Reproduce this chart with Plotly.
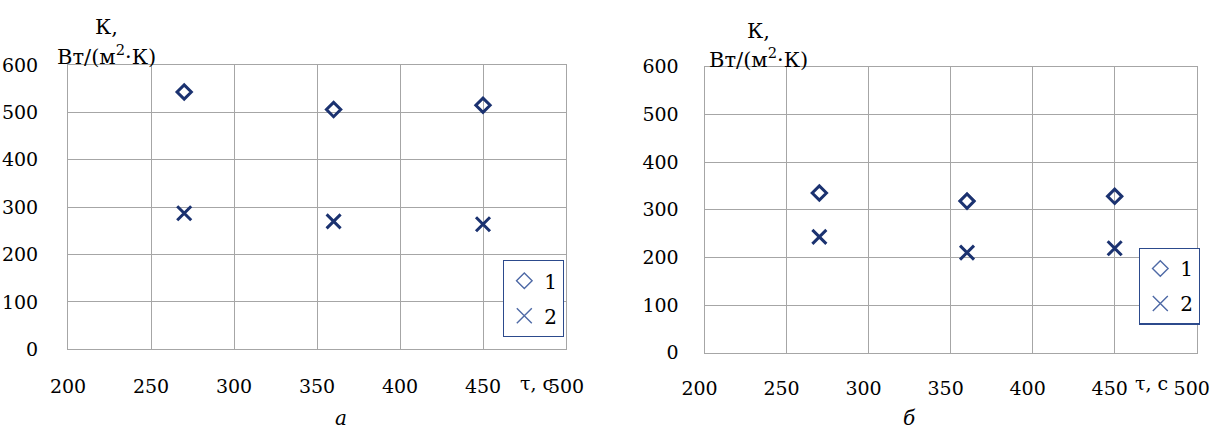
import plotly.graph_objects as go

W, H = 1217, 430

# Time, s
tau = [270, 360, 450]

# Heat transfer coefficient K, W/(m2·K) — panel "а"
k1_a = [543, 506, 515]
k2_a = [287, 270, 264]

# Heat transfer coefficient K, W/(m2·K) — panel "б"
k1_b = [335, 318, 328]
k2_b = [243, 210, 219]

x_ticks = [200, 250, 300, 350, 400, 450, 500]
y_ticks = [0, 100, 200, 300, 400, 500, 600]
series_names = ["1", "2"]

FONT = "DejaVu Serif"
NAVY = "#1b3270"
LEG = "#4f6aa6"
GRID = "#a6a6a6"
FS_TICK = 19
FS_TITLE = 21
FS_LEG = 20


def px_x(p):
    return p / W


def px_y(p):
    return 1 - p / H


fig = go.Figure()

panels = [
    ("x", "y", k1_a, k2_a, "legend"),
    ("x2", "y2", k1_b, k2_b, "legend2"),
]
for xa, ya, k1, k2, lg in panels:
    fig.add_trace(go.Scatter(
        x=tau, y=k1, mode="markers", xaxis=xa, yaxis=ya, showlegend=False,
        marker=dict(symbol="diamond-open", size=11, color=NAVY,
                    line=dict(width=3, color=NAVY)),
    ))
    fig.add_trace(go.Scatter(
        x=tau, y=k2, mode="markers", xaxis=xa, yaxis=ya, showlegend=False,
        marker=dict(symbol="x-thin-open", size=14, color=NAVY,
                    line=dict(width=3, color=NAVY)),
    ))
    # legend entries (lighter, thin symbols)
    fig.add_trace(go.Scatter(
        x=[None], y=[None], mode="markers", xaxis=xa, yaxis=ya,
        name=series_names[0], legend=lg, legendgroup=lg + "a",
        marker=dict(symbol="diamond-open", size=12, color=LEG,
                    line=dict(width=1.4, color=LEG)),
    ))
    fig.add_trace(go.Scatter(
        x=[None], y=[None], mode="markers", xaxis=xa, yaxis=ya,
        name=series_names[1], legend=lg, legendgroup=lg + "b",
        marker=dict(symbol="x-thin-open", size=15, color=LEG,
                    line=dict(width=1.4, color=LEG)),
    ))

axis_common = dict(
    showgrid=True, gridcolor=GRID, gridwidth=1,
    showline=True, linecolor=GRID, linewidth=1, mirror=True,
    zeroline=False, ticks="", automargin=False,
    tickfont=dict(family=FONT, size=FS_TICK, color="#000000"),
)

tick_text = [str(v) for v in x_ticks]

fig.update_layout(
    width=W, height=H,
    margin=dict(l=0, r=0, t=0, b=0, autoexpand=False),
    paper_bgcolor="white", plot_bgcolor="white",
    font=dict(family=FONT, size=FS_TICK, color="#000000"),
    xaxis=dict(domain=[px_x(68), px_x(566)], range=[200, 500], anchor="y",
               tickvals=x_ticks, ticktext=tick_text,
               ticklabelstandoff=20, **axis_common),
    yaxis=dict(domain=[px_y(349.3), px_y(65)], range=[0, 600], anchor="x",
               tickvals=y_ticks, ticklabelstandoff=25, **axis_common),
    xaxis2=dict(domain=[px_x(704.5), px_x(1196.7)], range=[200, 500], anchor="y2",
                tickvals=x_ticks, ticktext=tick_text, ticklabelshift=-5,
                ticklabelstandoff=18, **axis_common),
    yaxis2=dict(domain=[px_y(352.7), px_y(66.7)], range=[0, 600], anchor="x2",
                tickvals=y_ticks, ticklabelstandoff=21, **axis_common),
    legend=dict(x=px_x(503), y=px_y(260), xanchor="left", yanchor="top",
                bgcolor="white", bordercolor="#2c4a8c", borderwidth=1.3,
                tracegroupgap=6, itemwidth=30,
                font=dict(family=FONT, size=FS_LEG, color="#000000")),
    legend2=dict(x=px_x(1139), y=px_y(247.7), xanchor="left", yanchor="top",
                 bgcolor="white", bordercolor="#2c4a8c", borderwidth=1.3,
                 tracegroupgap=6, itemwidth=30,
                 font=dict(family=FONT, size=FS_LEG, color="#000000")),
)

annots = [
    # panel а axis titles
    dict(text="К,", x=px_x(106), y=px_y(27), size=FS_TITLE),
    dict(text="Вт/(м<sup>2</sup>·К)", x=px_x(106), y=px_y(55), size=FS_TITLE),
    dict(text="τ, с", x=px_x(555), y=px_y(383), xanchor="right", size=FS_TICK),
    dict(text="<i>а</i>", x=px_x(341), y=px_y(418), size=FS_LEG),
    # panel б axis titles
    dict(text="К,", x=px_x(758), y=px_y(31), size=FS_TITLE),
    dict(text="Вт/(м<sup>2</sup>·К)", x=px_x(758), y=px_y(58), size=FS_TITLE),
    dict(text="τ, с", x=px_x(1170), y=px_y(383), xanchor="right", size=FS_TICK),
    dict(text="<i>б</i>", x=px_x(909), y=px_y(418), size=FS_LEG),
]
for a in annots:
    a.setdefault("xanchor", "center")
    size = a.pop("size")
    fig.add_annotation(xref="paper", yref="paper", showarrow=False,
                       yanchor="middle",
                       font=dict(family=FONT, size=size, color="#000000"), **a)

fig.write_html("out.html")
